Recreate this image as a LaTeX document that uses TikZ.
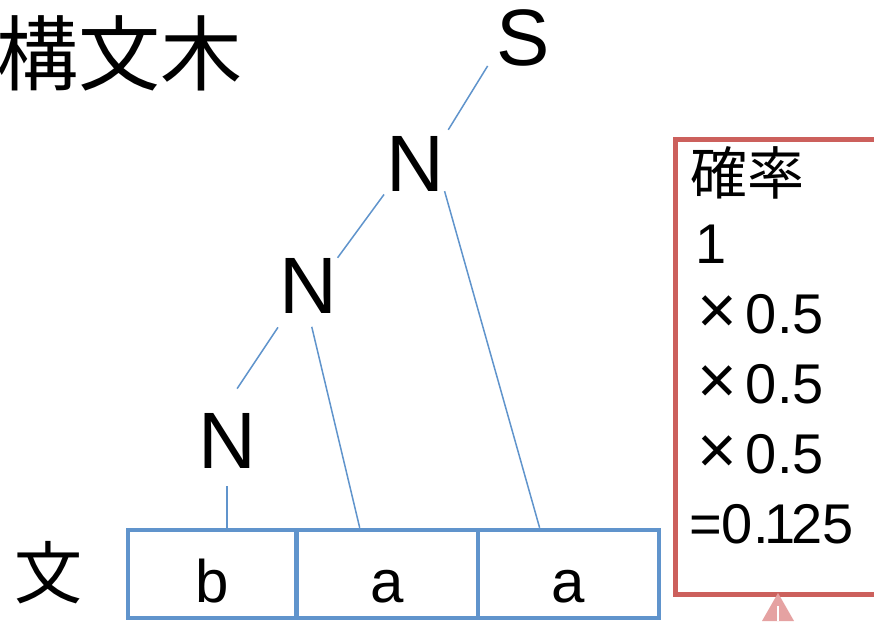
\documentclass[tikz,border=0pt]{standalone}
\usepackage{fontspec}
\setmainfont{Liberation Sans}
\newfontfamily\jpfont{Noto Sans CJK JP}
\usetikzlibrary{positioning,calc}
\definecolor{treeblue}{RGB}{96,148,204}
\definecolor{probred}{RGB}{204,96,92}
\definecolor{arrowpink}{RGB}{229,162,162}

\begin{document}
\begin{tikzpicture}[x=1pt,y=-1pt,
  sym/.style={inner sep=0pt,anchor=base,font=\fontsize{80}{80}\selectfont},
  word/.style={draw=treeblue,line width=4.5pt,minimum height=88pt,inner sep=0pt,
    text height=56pt,text depth=0pt,font=\fontsize{60}{60}\selectfont},
  branch/.style={draw=treeblue,line width=1.5pt},
  prob/.style={inner sep=0pt,anchor=base west,font=\fontsize{56}{56}\selectfont}]
\fill[white] (0,0) rectangle (874,621);
\useasboundingbox (0,0) rectangle (874,621);

\node[font=\jpfont\fontsize{82}{82}\selectfont,inner sep=0pt,anchor=base west] (title) at (-4,84) {構文木};

                                \node[sym] (S) at (523.5,65) {S};
                  \node[sym] (N1) at (415.5,191) {N};
         \node[sym] (N2) at (308.5,313) {N};
  \node[sym] (N3) at (227,468) {N};

\node[font=\jpfont\fontsize{68}{68}\selectfont,inner sep=0pt,anchor=base west] (sent) at (14,598) {文};
\node[word,minimum width=168pt] (wb) at (212,574) {b};
\node[word,minimum width=181pt] (wa1) at (387.5,574) {a};
\node[word,minimum width=181pt] (wa2) at (568.5,574) {a};

\draw[branch] ([xshift=-9pt]S.south west) edge[shorten >=7pt] (N1.north east);
\draw[branch] (N1.south west) edge[shorten <=4pt] (N2.north east)
              (N1.south east) edge (wa2.122);
\draw[branch] ([xshift=8pt]N2.south west) edge[shorten <=17pt,shorten >=29pt] ([xshift=-6pt]N3.north)
              (N2.south) edge[shorten <=14pt] (wa1.121);
\draw[branch] (N3.south) edge[shorten <=18pt] (N3 |- wb.north);

\node[draw=probred,line width=4.5pt,minimum width=230pt,minimum height=455pt,
  anchor=north west,inner sep=0pt] (probbox) at (673,137) {};
\node[prob,font=\jpfont\fontsize{57}{57}\selectfont] (p0) at (690,194) {確率};
\node[prob] (p1) at (695,263) {1};
\node[prob] (p2) at (697,333) {{\fontsize{68}{68}\selectfont ×}\kern9pt 0.5};
\node[prob] (p3) at (697,403) {{\fontsize{68}{68}\selectfont ×}\kern9pt 0.5};
\node[prob] (p4) at (697,473) {{\fontsize{68}{68}\selectfont ×}\kern9pt 0.5};
\node[prob] (p5) at (689,543) {=0.\kern-4pt 1\kern-4pt 25};

\fill[arrowpink] (762,621) -- (778,593) -- (794,621) -- cycle;
\draw[white,line width=1.5pt] (778,606) -- (778,621);
\end{tikzpicture}
\end{document}
